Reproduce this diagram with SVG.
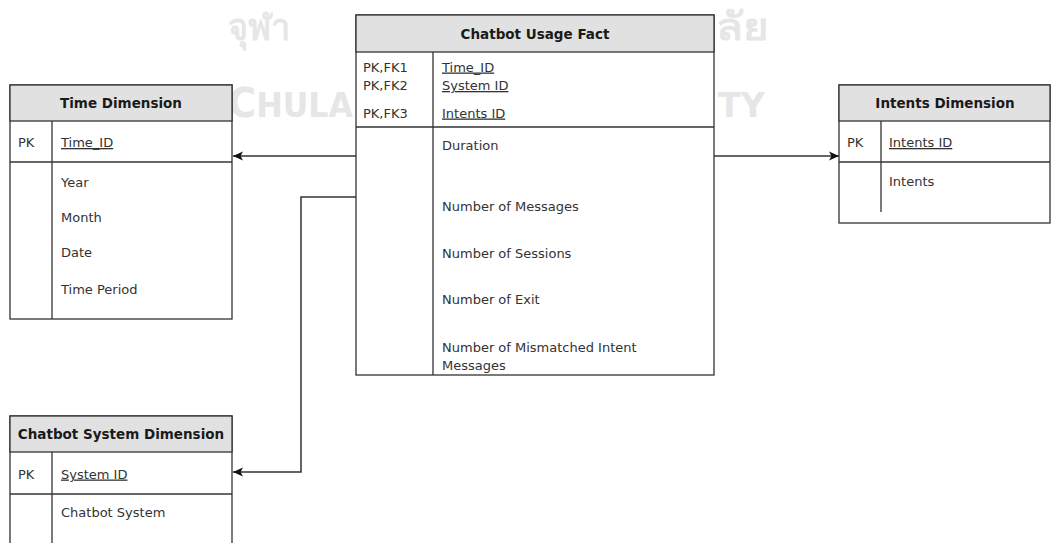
<svg xmlns="http://www.w3.org/2000/svg" width="1052" height="543" viewBox="0 0 1052 543">
  <style>
    .box { fill: #ffffff; stroke: #333333; stroke-width: 1.3; }
    .head { fill: #e1e1e1; stroke: #333333; stroke-width: 1.3; }
    .sep { stroke: #333333; stroke-width: 1.3; fill: none; }
    .title { font-family: "DejaVu Sans", sans-serif; font-weight: bold; font-size: 13.5px; fill: #1a1a1a; text-anchor: middle; }
    .txt { font-family: "DejaVu Sans", sans-serif; font-size: 13px; fill: #333333; }
    .key { text-decoration: underline; }
    .wm { fill: #e6e6e6; font-family: "DejaVu Sans", "Noto Sans", sans-serif; font-weight: bold; }
    .link { fill: none; stroke: #333333; stroke-width: 1.5; }
  </style>
  <defs>
    <marker id="arrow" viewBox="0 0 10 10" refX="10" refY="5" markerWidth="10" markerHeight="10" markerUnits="userSpaceOnUse" orient="auto">
      <path d="M0,0.5 L10,5 L0,9.5 L2.5,5 z" fill="#111111"/>
    </marker>
  </defs>

  <rect width="1052" height="543" fill="#ffffff"/>

  <!-- background watermark: only the parts outside the fact table are visible -->
  <g id="watermark">
    <text class="wm" x="228" y="40" font-size="38" textLength="62" lengthAdjust="spacingAndGlyphs">จุฬา</text>
    <text class="wm" x="716" y="40" font-size="38" textLength="52" lengthAdjust="spacingAndGlyphs">ลัย</text>
    <text class="wm" x="228" y="117" font-size="40" textLength="125" lengthAdjust="spacingAndGlyphs">C<tspan font-size="33">HULA</tspan></text>
    <text class="wm" x="718" y="117" font-size="33" textLength="47" lengthAdjust="spacingAndGlyphs">TY</text>
  </g>

  <!-- connectors -->
  <g id="connectors">
    <path class="link" d="M356,156 L233,156" marker-end="url(#arrow)"/>
    <path class="link" d="M356,197 L301,197 L301,472 L233,472" marker-end="url(#arrow)"/>
    <path class="link" d="M714,156 L839,156" marker-end="url(#arrow)"/>
  </g>

  <!-- Time Dimension -->
  <g id="time-dimension">
    <rect class="box" x="10" y="85" width="222" height="234"/>
    <rect class="head" x="10" y="85" width="222" height="36"/>
    <line class="sep" x1="10" y1="162" x2="232" y2="162"/>
    <line class="sep" x1="52" y1="121" x2="52" y2="319"/>
    <text class="title" x="121" y="108">Time Dimension</text>
    <text class="txt" x="18" y="147">PK</text>
    <text class="txt key" x="61" y="147">Time_ID</text>
    <text class="txt" x="61" y="186.5">Year</text>
    <text class="txt" x="61" y="221.5">Month</text>
    <text class="txt" x="61" y="256.5">Date</text>
    <text class="txt" x="61" y="293.5">Time Period</text>
  </g>

  <!-- Chatbot Usage Fact -->
  <g id="chatbot-usage-fact">
    <rect class="box" x="356" y="15" width="358" height="360"/>
    <rect class="head" x="356" y="15" width="358" height="37"/>
    <line class="sep" x1="356" y1="127" x2="714" y2="127"/>
    <line class="sep" x1="433" y1="52" x2="433" y2="375"/>
    <text class="title" x="535" y="38.5">Chatbot Usage Fact</text>
    <text class="txt" x="363" y="71.5">PK,FK1</text>
    <text class="txt" x="363" y="90">PK,FK2</text>
    <text class="txt" x="363" y="117.5">PK,FK3</text>
    <text class="txt key" x="442" y="71.5">Time_ID</text>
    <text class="txt key" x="442" y="90">System ID</text>
    <text class="txt key" x="442" y="117.5">Intents ID</text>
    <text class="txt" x="442" y="149.5">Duration</text>
    <text class="txt" x="442" y="210.5">Number of Messages</text>
    <text class="txt" x="442" y="257.5">Number of Sessions</text>
    <text class="txt" x="442" y="303.5">Number of Exit</text>
    <text class="txt" x="442" y="351.5">Number of Mismatched Intent</text>
    <text class="txt" x="442" y="369.5">Messages</text>
  </g>

  <!-- Intents Dimension -->
  <g id="intents-dimension">
    <rect class="box" x="839" y="85" width="211" height="138"/>
    <rect class="head" x="839" y="85" width="211" height="36"/>
    <line class="sep" x1="839" y1="162" x2="1050" y2="162"/>
    <line class="sep" x1="881" y1="121" x2="881" y2="212"/>
    <text class="title" x="945" y="108">Intents Dimension</text>
    <text class="txt" x="847" y="147">PK</text>
    <text class="txt key" x="889" y="147">Intents ID</text>
    <text class="txt" x="889" y="186">Intents</text>
  </g>

  <!-- Chatbot System Dimension -->
  <g id="chatbot-system-dimension">
    <rect class="box" x="10" y="416" width="222" height="140"/>
    <rect class="head" x="10" y="416" width="222" height="36"/>
    <line class="sep" x1="10" y1="494" x2="232" y2="494"/>
    <line class="sep" x1="52" y1="452" x2="52" y2="556"/>
    <text class="title" x="121" y="439">Chatbot System Dimension</text>
    <text class="txt" x="18" y="478.5">PK</text>
    <text class="txt key" x="61" y="478.5">System ID</text>
    <text class="txt" x="61" y="517">Chatbot System</text>
  </g>
</svg>
